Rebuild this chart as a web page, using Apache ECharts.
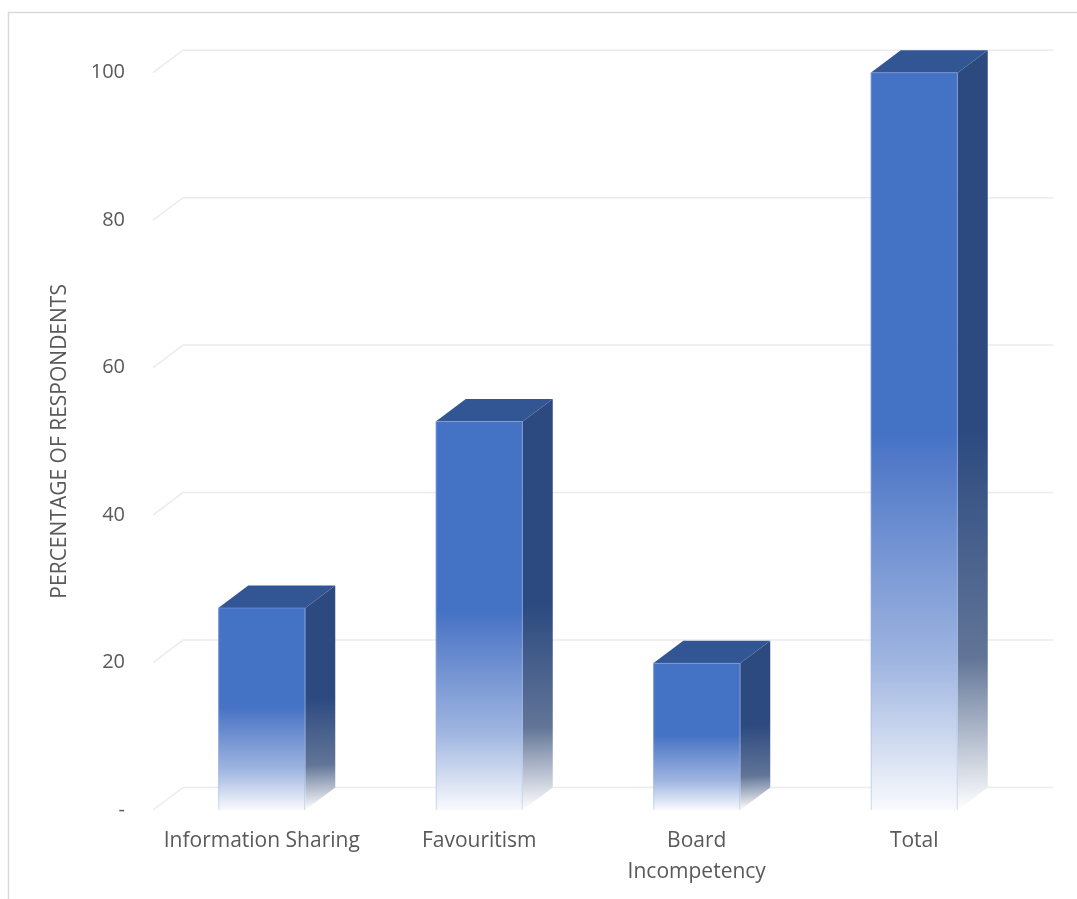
<!DOCTYPE html>
<html>
<head>
<meta charset="utf-8">
<script src="https://cdn.jsdelivr.net/npm/echarts@6/dist/echarts.min.js"></script>
<style>html,body{margin:0;padding:0;background:#fff;}#c{width:1077px;height:899px;}</style>
</head>
<body>
<div id="c"></div>
<script>
var categories = ['Information Sharing', 'Favouritism', 'Board Incompetency', 'Total'];
var values = [27.4, 52.7, 19.9, 100];
var yTicks = [0, 20, 40, 60, 80, 100];
var yTickLabels = ['-', '20', '40', '60', '80', '100'];
var axisTitle = 'PERCENTAGE OF RESPONDENTS';

var DX = 30, DY = 22.5;
var chart = echarts.init(document.getElementById('c'));

function gridItem(params, api) {
  var cs = params.coordSys;
  var y = api.coord([0, api.value(0)])[1];
  return {
    type: 'polyline',
    shape: { points: [[cs.x, y], [cs.x + DX, y - DY], [cs.x + cs.width + DX, y - DY]] },
    style: { stroke: '#ececec', lineWidth: 1.5, fill: null },
    silent: true
  };
}

function barItem(params, api) {
  var idx = api.value(0), v = api.value(1);
  var base = api.coord([idx, 0]);
  var top = api.coord([idx, v]);
  var w = api.size([1, 0])[0] * 0.4;
  var xl = base[0] - w / 2, xr = base[0] + w / 2;
  var yb = base[1], yt = top[1];
  return {
    type: 'group',
    children: [
      {
        type: 'polygon',
        shape: { points: [[xr, yt], [xr + DX, yt - DY], [xr + DX, yb - DY], [xr, yb]] },
        style: {
          fill: new echarts.graphic.LinearGradient(0, 0, 0.3, 1, [
            { offset: 0, color: '#2c4a80' },
            { offset: 0.5, color: '#2c4a80' },
            { offset: 0.8, color: '#627597' },
            { offset: 1, color: '#ffffff' }
          ])
        }
      },
      {
        type: 'polygon',
        shape: { points: [[xl, yt], [xr, yt], [xr + DX, yt - DY], [xl + DX, yt - DY]] },
        style: { fill: '#325693' }
      },
      {
        type: 'rect',
        shape: { x: xl, y: yt, width: w, height: yb - yt },
        style: {
          fill: new echarts.graphic.LinearGradient(0, 0, 0, 1, [
            { offset: 0, color: '#4472c4' },
            { offset: 0.49, color: '#4472c4' },
            { offset: 0.52, color: '#5078c7' },
            { offset: 0.8, color: '#9fb5e0' },
            { offset: 1, color: '#f9fafd' }
          ])
        }
      },
      {
        type: 'polyline',
        shape: { points: [[xl + 0.5, yb], [xl + 0.5, yt], [xr - 0.5, yt], [xr - 0.5, yb]] },
        style: { stroke: 'rgba(150,178,228,0.45)', lineWidth: 1, fill: null }
      }
    ]
  };
}

chart.setOption({
  animation: false,
  backgroundColor: '#ffffff',
  graphic: [{
    type: 'rect',
    shape: { x: 8.5, y: 12.5, width: 1100, height: 900 },
    style: { fill: null, stroke: '#d9d9d9', lineWidth: 1.5 },
    z: 100
  }],
  grid: { left: 153, right: 54, top: 72.7, bottom: 89, containLabel: false },
  xAxis: {
    type: 'category',
    data: categories,
    axisLine: { show: false },
    axisTick: { show: false },
    splitLine: { show: false },
    axisLabel: {
      interval: 0,
      margin: 16,
      color: '#595959',
      fontFamily: 'Open Sans',
      fontSize: 21,
      lineHeight: 31,
      formatter: function (val) {
        return val === 'Board Incompetency' ? 'Board\nIncompetency' : val;
      }
    }
  },
  yAxis: {
    type: 'value',
    min: 0, max: 100, interval: 20,
    name: axisTitle,
    nameLocation: 'middle',
    nameGap: 82,
    nameRotate: 90,
    nameTextStyle: { color: '#595959', fontFamily: 'Open Sans', fontSize: 21 },
    axisLine: { show: false },
    axisTick: { show: false },
    splitLine: { show: false },
    axisLabel: {
      margin: 28,
      color: '#595959',
      fontFamily: 'Open Sans',
      fontSize: 20,
      formatter: function (val) {
        var i = yTicks.indexOf(val);
        return i >= 0 ? yTickLabels[i] : '';
      }
    }
  },
  series: [
    {
      type: 'custom',
      renderItem: gridItem,
      data: yTicks.map(function (t) { return [t]; }),
      encode: { y: 0 },
      z: 1,
      silent: true
    },
    {
      type: 'custom',
      renderItem: barItem,
      data: values.map(function (v, i) { return [i, v]; }),
      encode: { x: 0, y: 1 },
      z: 5
    }
  ]
});
</script>
</body>
</html>
